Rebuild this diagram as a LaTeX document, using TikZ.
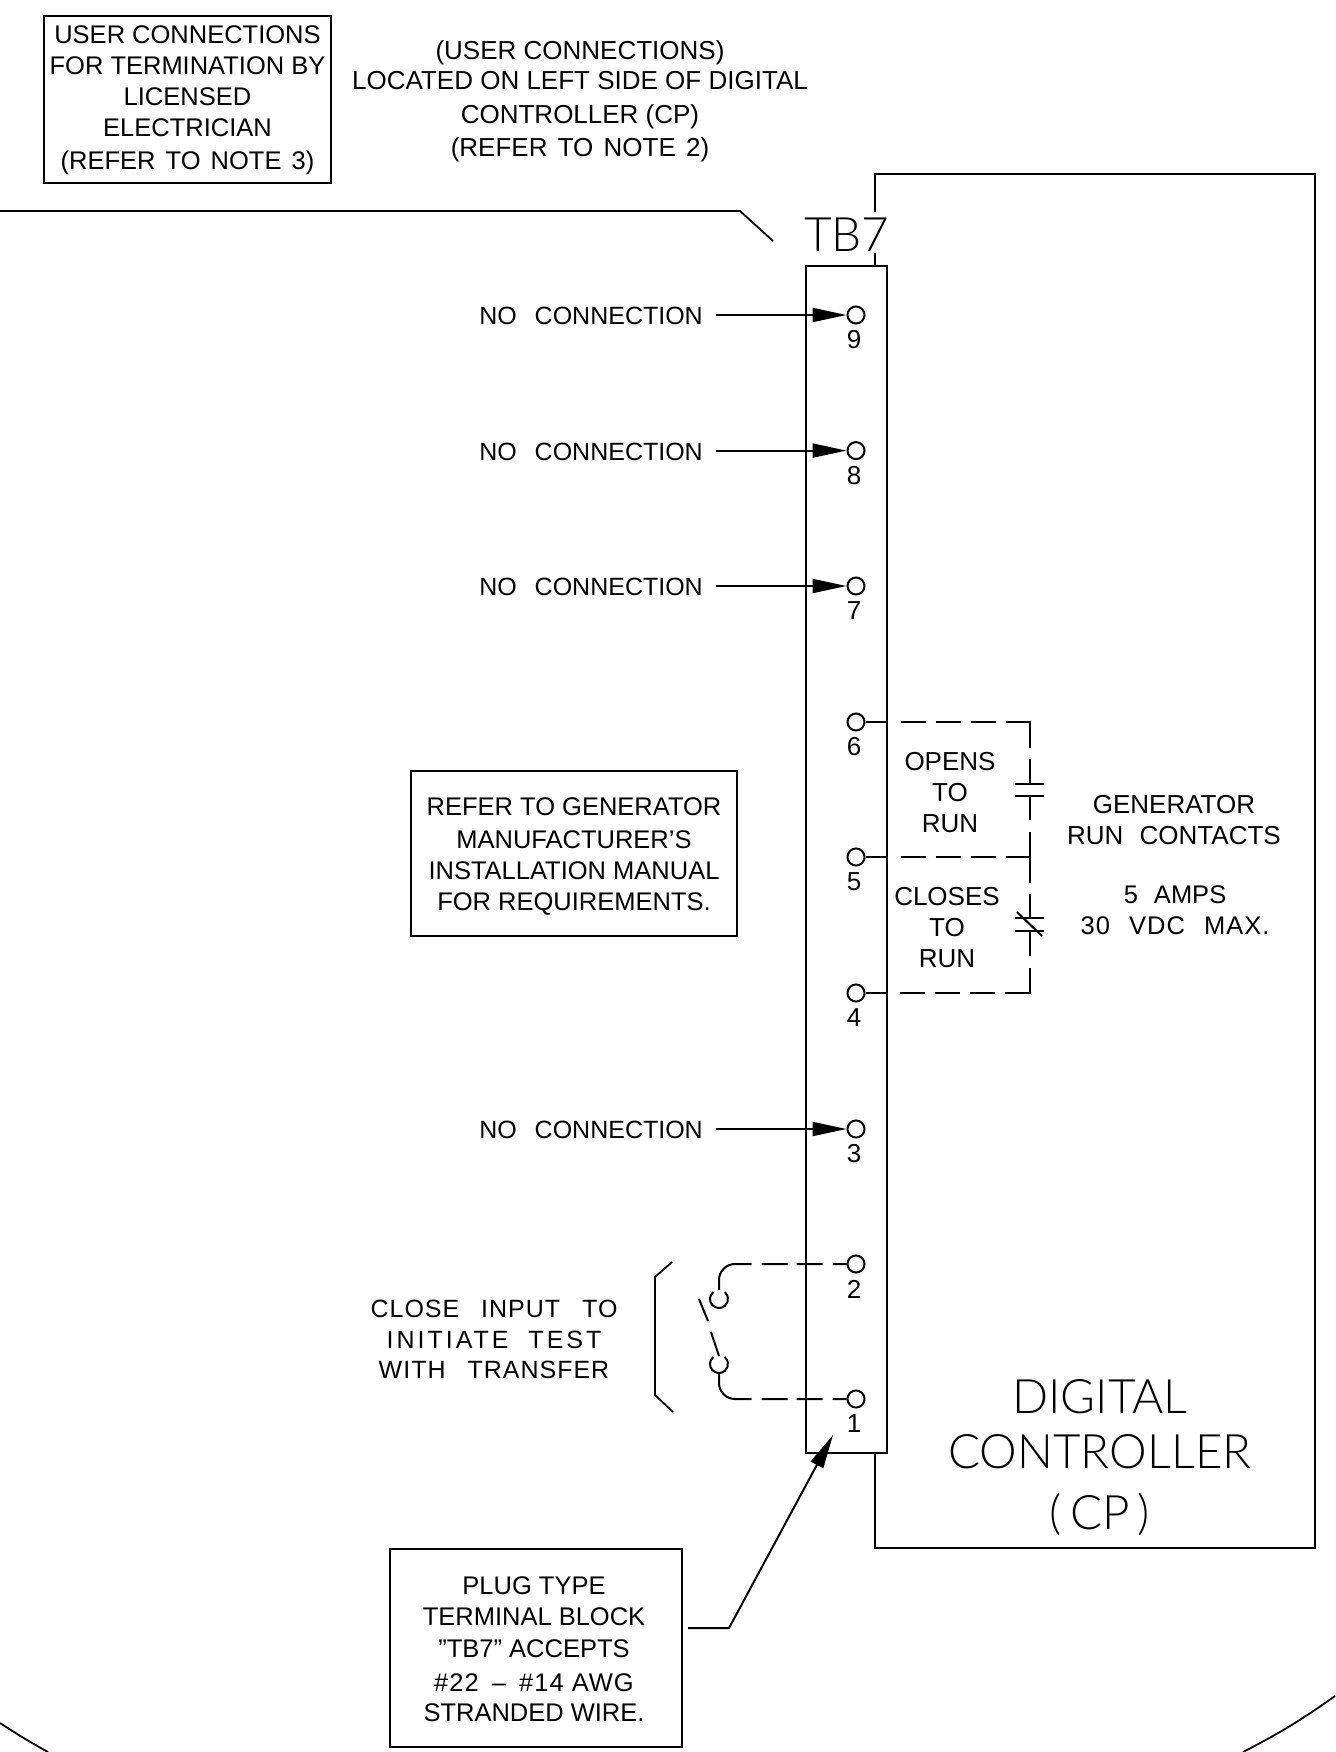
\documentclass[tikz,border=0pt]{standalone}
\usepackage{fontspec}
\setmainfont{Liberation Sans}
\newfontfamily\thinf{Lato Light}
\newfontfamily\spaced[LetterSpace=4]{Liberation Sans}
\newfontfamily\spacedw[LetterSpace=12]{Liberation Sans}
\usetikzlibrary{arrows.meta}
\tikzset{
  wire/.style={line width=2pt,draw=black},
  thin line/.style={line width=1.8pt,draw=black},
  txt/.style={inner sep=0pt,align=center,font=\fontsize{25.5}{31}\selectfont},
  big/.style={inner sep=0pt,align=center,font=\fontsize{47.5}{55}\selectfont\thinf},
  term/.style={circle,draw=black,line width=2pt,minimum size=17pt,inner sep=0pt},
  num/.style={inner sep=0pt,font=\fontsize{26}{30}\selectfont},
  notebox/.style={draw=black,line width=2pt,inner sep=0pt},
  nc/.style={inner xsep=13pt,inner ysep=0pt,anchor=east,yshift=-1pt,font=\fontsize{25}{31}\selectfont},
  headed/.style={wire,-{Triangle[length=34pt,width=14pt]}},
  dashA/.style={dash pattern=on 22pt off 13pt on 25pt off 10pt on 25pt off 10pt on 25pt off 10pt on 25pt},
  dashB/.style={dash pattern=on 22pt off 13pt on 25pt off 10pt on 25pt off 10pt on 25pt off 10pt on 50pt off 11pt on 26pt},
  dashC/.style={dash pattern=on 24pt off 12pt on 51pt off 11pt on 24pt},
  dashD/.style={dash pattern=on 25pt off 12pt on 50pt off 10pt on 25pt off 10pt on 25pt off 10pt on 25pt off 13pt on 22pt},
  dashW/.style={dash pattern=on 14pt off 10pt on 26pt off 9pt on 26pt off 10pt on 100pt},
  plate/.style={wire}
}
\begin{document}
\begin{tikzpicture}[x=1pt,y=1pt]
\useasboundingbox (0,0) rectangle (1335,-1752);
% outer shell
\draw[thin line] (0,-211) -- (740,-211) -- (773,-241);
\draw[thin line] (0,-1723) to[bend right=2] (48,-1752);
\draw[thin line] (1335,-1696) to[bend left=4] (1243,-1752);
% controller
\coordinate (cpa) at (875,-212);
\coordinate (cpb) at (875,-174);
\coordinate (cpc) at (1315,-174);
\coordinate (cpd) at (1315,-1548);
\coordinate (cpe) at (875,-1548);
\node[draw=black,line width=2pt,minimum width=81pt,minimum height=1187pt,inner sep=0pt] (tb) at (846.5,-859.5) {};
\coordinate (cpf) at (875,-1453);
\coordinate (cpg) at (875,-253);
\coordinate (cph) at (875,-266);
\draw[wire] (cpa) -- (cpb) -- (cpc) -- (cpd) -- (cpe) -- (cpf);
\draw[wire] (cpg) -- (cph);
\node[big] (tblabel) at (847,-235) {TB7};
\node[big] (cplabel) at (1100,-1458) {DIGITAL\\[0pt]CONTROLLER\\[6pt](\hspace{8pt}CP\hspace{8pt})};
% terminals
\foreach \n/\y in {9/315,8/450.6,7/586,6/722,5/857,4/993,3/1129,2/1264,1/1399}{
  \node[term] (t\n) at (856,-\y) {};
  \node[num] (l\n) at (854,-\y-25) {\n};
}
% no connection arrows
\foreach \n/\y in {9/315,8/450.6,7/586,3/1129}{
  \node[nc] (nc\n) at (716,-\y) {NO\hspace{11pt} CONNECTION};
  \draw[headed] (nc\n.east |- t\n.west) -- (t\n.west);
}
% text notes
\node[notebox,minimum width=287pt,minimum height=167pt] (b1) at (187.5,-99.5) {};
\node[txt] (b1t) at (187.5,-100) {USER CONNECTIONS\\FOR TERMINATION BY\\LICENSED\\ELECTRICIAN\\[2pt](REFER\hspace{3pt} TO\hspace{3pt} NOTE\hspace{3pt} 3)};
\node[txt,font=\fontsize{26}{32}\selectfont] (top) at (580,-101.5) {(USER CONNECTIONS)\\[-2pt]LOCATED ON LEFT SIDE OF DIGITAL\\[2pt]CONTROLLER (CP)\\[1pt](REFER\hspace{3pt} TO\hspace{3pt} NOTE\hspace{3pt} 2)};
\node[notebox,minimum width=326pt,minimum height=165pt] (b2) at (574,-853.5) {};
\node[txt] (b2t) at (574,-856) {REFER TO GENERATOR\\[2pt]MANUFACTURER’S\\INSTALLATION MANUAL\\FOR REQUIREMENTS.};
\node[notebox,minimum width=292pt,minimum height=198pt] (b3) at (536,-1648) {};
\node[txt] (b3t) at (534,-1649) {PLUG TYPE\\TERMINAL BLOCK\\[1pt]”TB7” ACCEPTS\\[3pt]{\spaced\#22\hspace{5pt} –\hspace{5pt} \#14 AWG}\\[-1pt]STRANDED WIRE.};
\node[txt,font=\fontsize{26}{31}\selectfont] (open) at (950,-793) {OPENS\\TO\\RUN};
\node[txt,font=\fontsize{26}{31}\selectfont] (close) at (947,-928) {CLOSES\\TO\\RUN};
\node[txt,font=\fontsize{26}{31}\selectfont] (gen) at (1174,-820) {GENERATOR\\RUN\hspace{9pt} CONTACTS};
\node[txt] (amps) at (1175,-910.5) {5\hspace{9pt} AMPS\\{\spaced 30\hspace{11pt} VDC\hspace{11pt} MAX.}};
\node[txt,font=\fontsize{25}{30.5}\selectfont] (test) at (494,-1339.5) {{\spaced CLOSE\hspace{14pt} INPUT\hspace{14pt} TO}\\{\spacedw INITIATE\hspace{10pt} TEST}\\{\spaced WITH\hspace{14pt} TRANSFER}};
% relay wiring
\coordinate (c6) at (1030,-722);
\coordinate (p1a) at (1030,-784);
\coordinate (p1b) at (1030,-796);
\coordinate (j5) at (1030,-857);
\coordinate (p2a) at (1030,-918);
\coordinate (p2b) at (1030,-931);
\coordinate (c4) at (1030,-993);
\draw[wire,dashB] (t6.east) -- (c6) -- (p1a);
\draw[wire,dashA] (t5.east) -- (j5);
\draw[wire,dashC] (p1b) -- (p2a);
\draw[wire,dashD] (p2b) -- (c4) -- (t4.east);
\draw[plate] (1015,-784) -- (1044,-784);
\draw[plate] (1015,-796) -- (1044,-796);
\draw[plate] (1015,-918) -- (1044,-918);
\draw[plate] (1015,-931) -- (1044,-931);
\draw[plate] (1017,-912) -- (1042,-936);
% switch
\draw[thin line] (672,-1262) -- (655,-1277) -- (655,-1395) -- (673,-1412);
\draw[wire,dashW] (t2.west) -- (735,-1264) arc[start angle=90,end angle=180,radius=16] -- (719,-1290);
\draw[wire,dashW] (t1.west) -- (735,-1399) arc[start angle=270,end angle=180,radius=16] -- (719,-1373);
\draw[wire] (713.2,-1292.1) arc[start angle=130,end angle=410,radius=9];
\draw[wire] (713.2,-1357.1) arc[start angle=130,end angle=410,radius=9];
\draw[wire] (699,-1299) -- (708,-1321);
\draw[wire] (711,-1332) -- (719,-1356);
% callout
\coordinate (leadstart) at (688,-1628);
\coordinate (leadbend) at (729,-1628);
\coordinate (leadtip) at (833,-1435);
\draw[headed] (leadstart) -- (leadbend) -- (leadtip);
\end{tikzpicture}
\end{document}
